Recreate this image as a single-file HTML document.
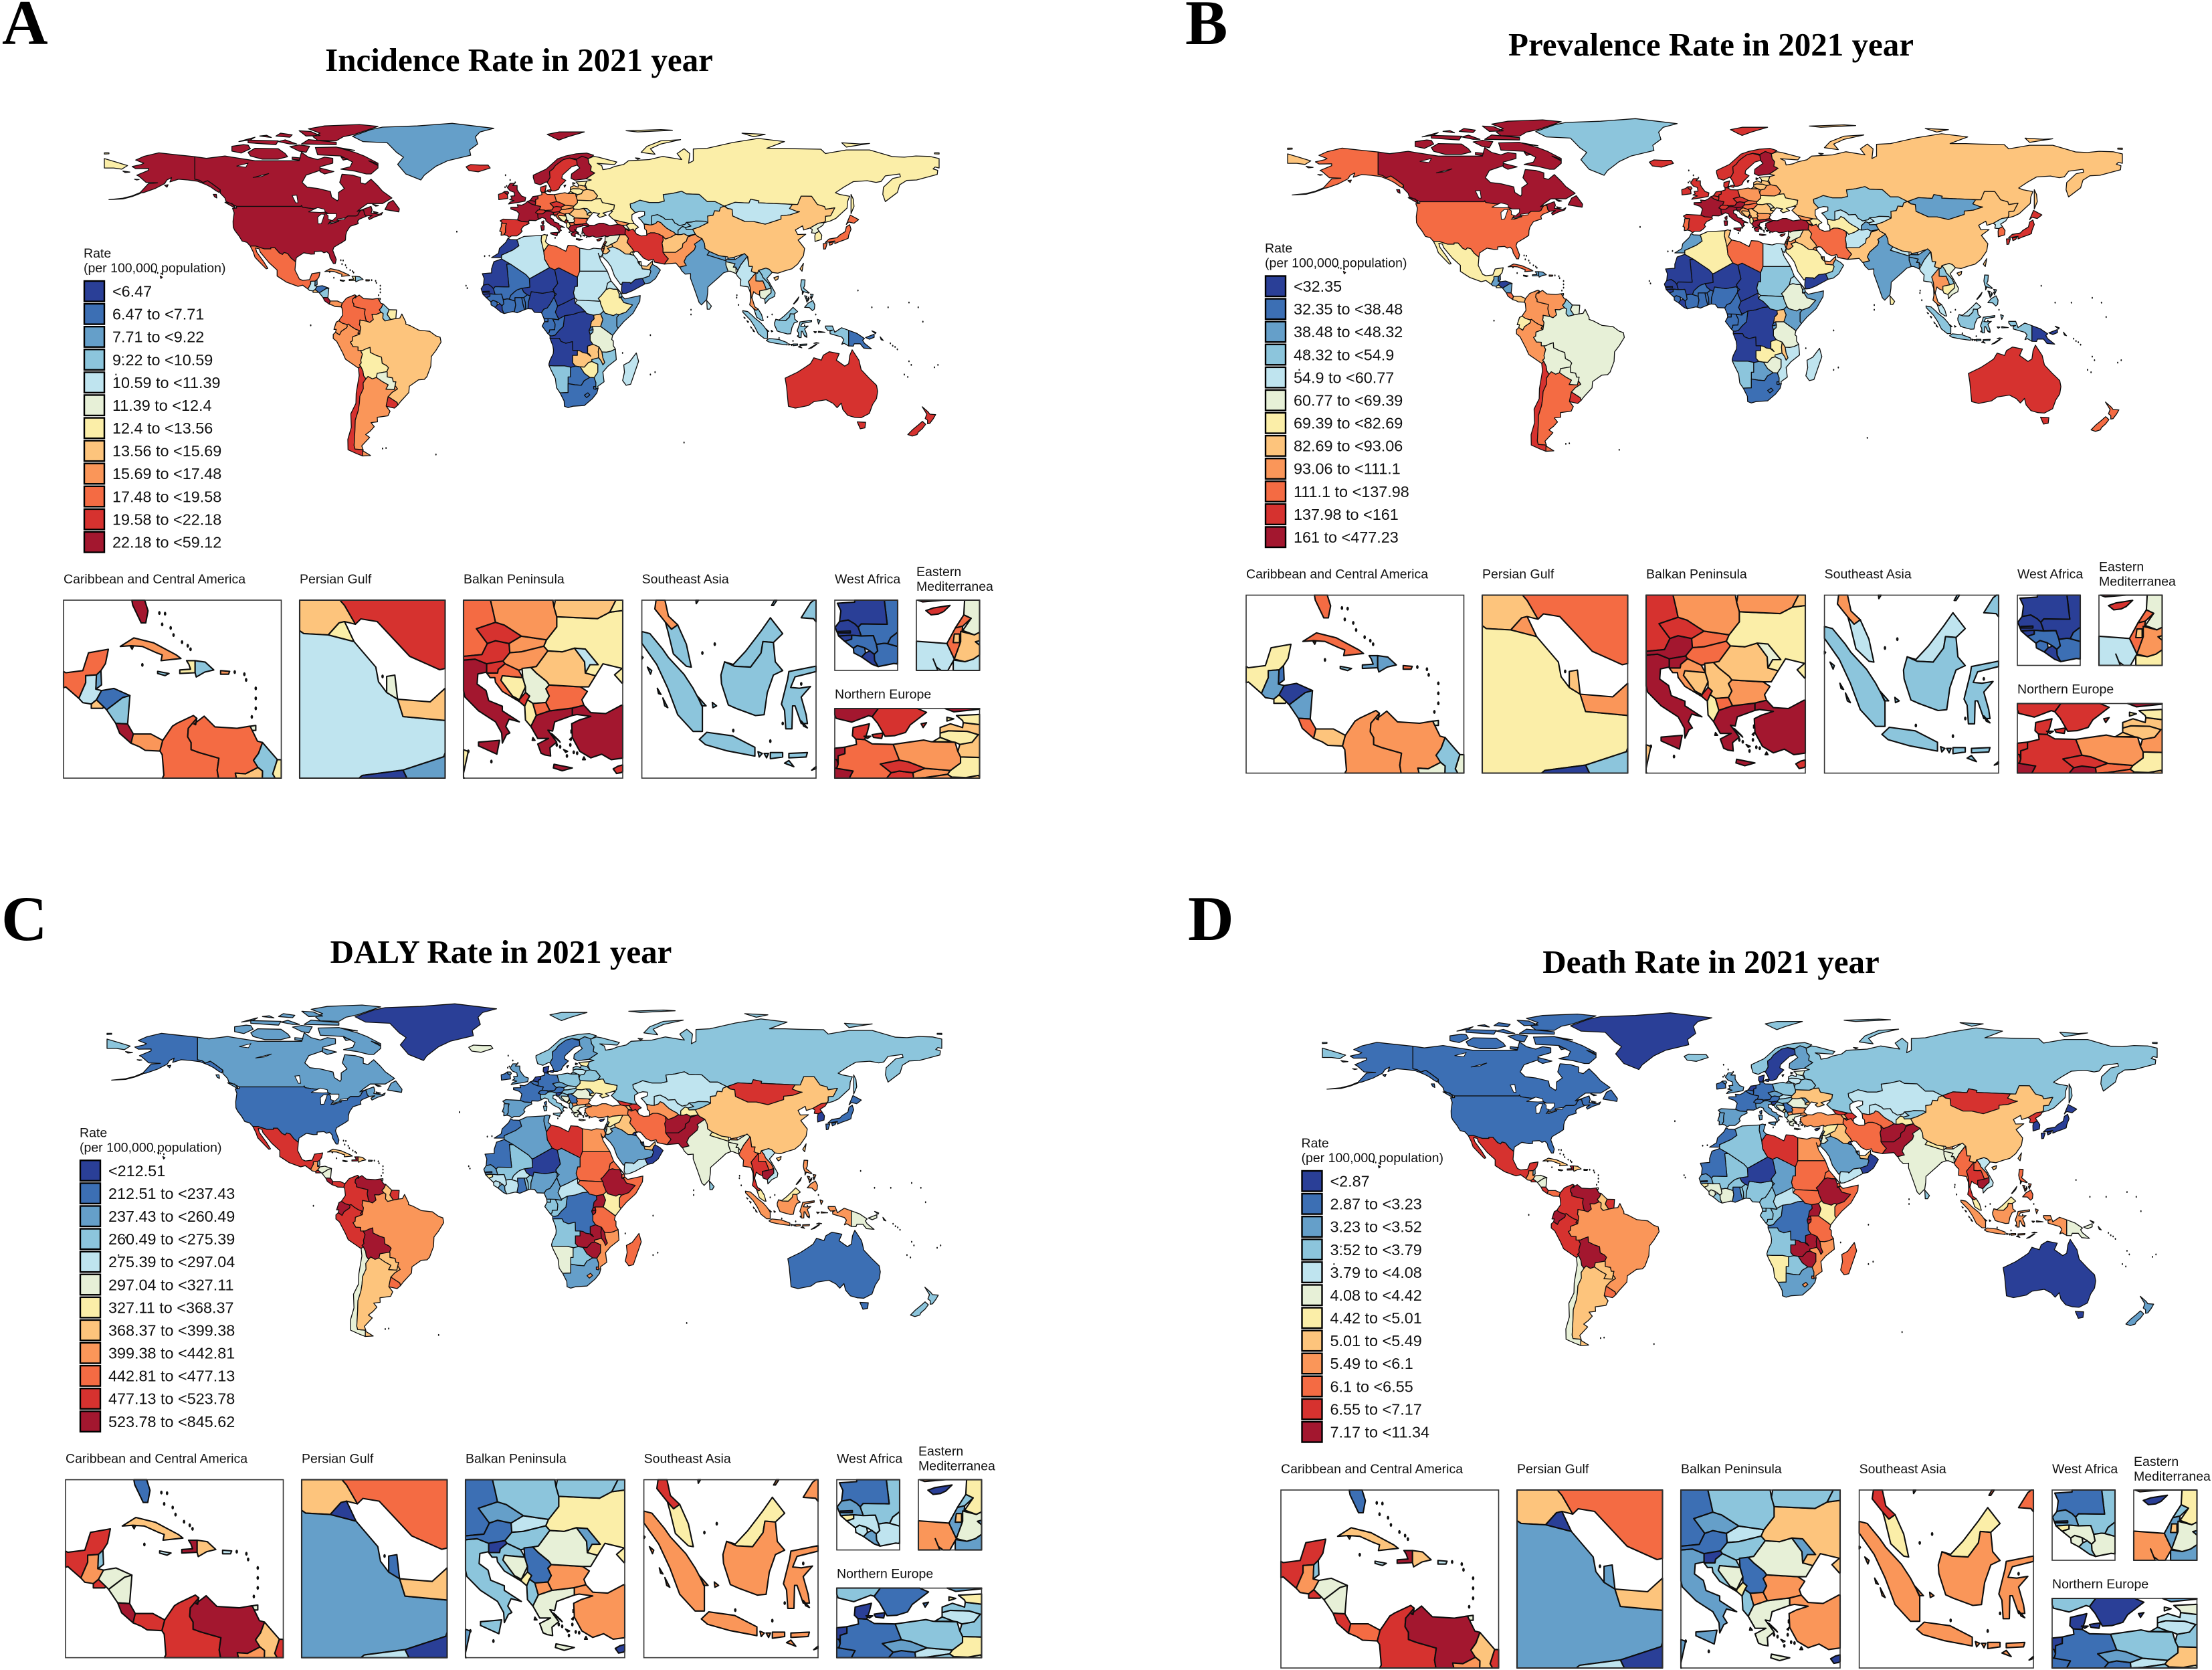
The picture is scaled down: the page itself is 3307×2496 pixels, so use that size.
<!DOCTYPE html>
<html lang="en"><head><meta charset="utf-8"><title>Global burden maps 2021</title>
<style>html,body{margin:0;padding:0;background:#fff;overflow:hidden}svg{display:block}text{font-family:"Liberation Sans",sans-serif;fill:#111}.ttl{font-family:"Liberation Serif",serif;font-weight:bold;font-size:49px;text-anchor:middle;fill:#000}.ltr{font-family:"Liberation Serif",serif;font-weight:bold;font-size:95px;fill:#000}</style></head>
<body>
<svg id="fig" xmlns="http://www.w3.org/2000/svg" width="3307" height="2496" viewBox="0 0 3307 2496">
<rect width="3307" height="2496" fill="#fff"/>
<text class="ltr" x="3" y="66">A</text>
<text class="ltr" x="1772" y="66">B</text>
<text class="ltr" x="2" y="1405">C</text>
<text class="ltr" x="1776" y="1405">D</text>
<text class="ttl" x="776" y="106">Incidence Rate in 2021 year</text>
<text class="ttl" x="2558" y="83">Prevalence Rate in 2021 year</text>
<text class="ttl" x="749" y="1439">DALY Rate in 2021 year</text>
<text class="ttl" x="2558" y="1454">Death Rate in 2021 year</text>
</svg>
<script>
// ---------- chart data ----------
const palette=["#2a3f97","#3c6fb4","#659fc9","#8cc5dc","#bfe4ef","#e7f0d7","#fbeea8","#fdc47c","#fa9659","#f46b43","#d6322f","#a3172f"];
const countries=[
"Canada","USA","Greenland","Mexico","Guatemala","Belize","Honduras","El Salvador","Nicaragua","Costa Rica","Panama","Cuba","Jamaica","Haiti","Dominican Republic","Puerto Rico","Trinidad",
"Colombia","Venezuela","Guyana","Suriname","Ecuador","Peru","Brazil","Bolivia","Paraguay","Chile","Argentina","Uruguay",
"Iceland","UK","Ireland","France","Spain","Portugal","Belgium","Netherlands","Germany","Switzerland","Italy","Austria","Czechia","Slovakia","Hungary","Slovenia","Croatia","Bosnia","Serbia","Montenegro","Albania","North Macedonia","Greece","Bulgaria","Romania","Moldova","Ukraine","Belarus","Poland","Lithuania","Latvia","Estonia","Denmark","Norway","Sweden","Finland","Russia",
"Kazakhstan","Uzbekistan","Turkmenistan","Kyrgyzstan","Tajikistan","Mongolia","China","Japan","North Korea","South Korea","Afghanistan","Pakistan","India","Nepal","Bhutan","Bangladesh","Sri Lanka","Myanmar","Thailand","Laos","Vietnam","Cambodia","Malaysia","Indonesia","Philippines","Papua New Guinea","Australia","New Zealand",
"Iran","Iraq","Kuwait","Saudi Arabia","Qatar","UAE","Oman","Yemen","Turkey","Syria","Lebanon","Israel","Palestine","Jordan","Cyprus","Georgia","Armenia","Azerbaijan",
"Morocco","Algeria","Tunisia","Libya","Egypt","Sudan","South Sudan","Eritrea","Djibouti","Ethiopia","Somalia","Kenya","Uganda","Rwanda","Burundi","Tanzania","DR Congo","Congo","Gabon","Equatorial Guinea","Cameroon","Central African Republic","Chad","Nigeria","Niger","Mali","Mauritania","Senegal","Gambia","Guinea-Bissau","Guinea","Sierra Leone","Liberia","Ivory Coast","Burkina Faso","Ghana","Togo","Benin","Angola","Zambia","Malawi","Mozambique","Zimbabwe","Botswana","Namibia","South Africa","Lesotho","Eswatini","Madagascar"];
// rate class (legend bin index) of every country, same order as countries
const incidenceBins=[11,11,2,9,4,2,1,7,3,11,8,8,3,6,3,8,5,
9,9,3,6,8,8,7,6,5,10,8,10,
10,11,10,11,10,9,11,11,9,10,11,10,10,8,8,10,9,6,5,10,6,9,11,9,7,4,6,7,8,6,7,6,10,11,10,11,6,
3,3,8,3,3,4,7,9,5,6,7,8,2,2,2,5,4,4,8,3,3,5,3,3,3,1,10,10,
10,7,6,4,5,7,2,0,11,5,9,9,7,7,10,8,5,6,
0,4,6,9,4,4,4,4,3,6,2,2,7,1,2,5,0,1,1,1,1,0,0,0,0,1,0,0,0,0,1,1,0,1,1,1,1,1,0,7,7,3,6,1,3,1,1,1,4];
const prevalenceBins=[11,9,3,6,2,1,0,6,2,9,7,9,3,2,2,9,5,
8,8,3,5,6,8,5,5,5,10,9,10,
10,10,10,11,10,9,10,10,10,10,11,11,10,9,9,11,8,7,7,10,6,9,11,8,7,5,6,8,8,7,7,6,10,10,10,11,7,
3,4,6,4,2,2,7,10,4,9,4,7,2,4,2,2,6,4,8,3,5,6,4,3,3,0,10,9,
9,7,8,6,7,8,3,0,11,5,9,9,7,8,10,8,8,6,
2,6,7,9,4,3,3,4,3,5,2,2,7,1,2,5,0,1,1,1,1,0,0,1,0,0,0,0,0,0,1,1,0,1,1,1,1,1,0,6,7,4,5,2,3,1,1,1,4];
const dalyBins=[2,1,0,10,8,3,5,10,5,11,10,7,4,11,7,4,5,
10,11,7,10,11,10,8,11,7,5,7,9,
5,2,1,1,2,2,1,0,1,1,3,1,2,4,3,0,3,5,1,6,3,8,5,8,5,2,6,3,3,4,3,6,0,3,1,2,3,
4,4,8,3,6,10,7,1,10,0,11,11,5,6,8,5,3,9,10,9,4,11,6,8,8,5,1,3,
9,7,0,2,1,7,0,4,8,6,3,2,7,5,0,10,7,10,
1,2,2,10,8,9,9,9,9,11,9,6,11,11,11,9,1,3,3,3,2,4,2,2,0,3,1,2,0,6,4,4,2,4,4,1,3,3,3,11,11,8,11,3,5,2,8,9,9];
const deathBins=[1,1,0,10,8,3,5,10,5,10,9,7,4,11,7,4,5,
10,11,7,10,11,10,8,11,7,5,7,9,
3,2,1,1,2,2,1,0,1,1,2,1,2,4,3,0,3,5,1,6,3,8,5,8,5,2,7,3,3,4,4,5,0,3,0,2,3,
4,4,9,3,6,10,7,0,10,0,11,11,5,6,8,5,3,9,10,9,4,11,6,8,9,5,0,2,
9,7,0,2,2,7,0,4,8,6,3,2,7,5,0,10,7,10,
1,3,2,10,8,9,9,9,9,11,9,6,11,11,11,9,1,3,3,3,3,4,2,3,0,3,1,2,0,6,5,5,3,5,3,1,3,3,3,11,11,8,11,3,6,2,8,9,9];
const incidenceLegend=["<6.47","6.47 to <7.71","7.71 to <9.22","9.22 to <10.59","10.59 to <11.39","11.39 to <12.4","12.4 to <13.56","13.56 to <15.69","15.69 to <17.48","17.48 to <19.58","19.58 to <22.18","22.18 to <59.12"];
const prevalenceLegend=["<32.35","32.35 to <38.48","38.48 to <48.32","48.32 to <54.9","54.9 to <60.77","60.77 to <69.39","69.39 to <82.69","82.69 to <93.06","93.06 to <111.1","111.1 to <137.98","137.98 to <161","161 to <477.23"];
const dalyLegend=["<212.51","212.51 to <237.43","237.43 to <260.49","260.49 to <275.39","275.39 to <297.04","297.04 to <327.11","327.11 to <368.37","368.37 to <399.38","399.38 to <442.81","442.81 to <477.13","477.13 to <523.78","523.78 to <845.62"];
const deathLegend=["<2.87","2.87 to <3.23","3.23 to <3.52","3.52 to <3.79","3.79 to <4.08","4.08 to <4.42","4.42 to <5.01","5.01 to <5.49","5.49 to <6.1","6.1 to <6.55","6.55 to <7.17","7.17 to <11.34"];

// ---------- base map outlines (lon,lat) ----------
const geo={
"Canada":["-141,69.7 -136,69 -128,70 -125,69.5 -115,68 -110,68 -102,68 -96,68 -95,71.5 -92,69.5 -88,68.5 -85,69.5 -81.5,69 -81.5,67 -87,65.5 -87,64 -93,62 -94.7,59 -92.5,57 -88,56.5 -82.5,55.2 -82,52.9 -79.5,51.3 -79,52 -79,54.8 -76.5,56.5 -78.5,59 -77.5,62.4 -73,62 -69.5,61 -69.5,58.8 -67.5,58.3 -65,60.3 -62,57.5 -60,55.3 -56,52.5 -60,50.2 -66.5,50.2 -69,48.5 -71,46.9 -65,49 -64.5,47.5 -65,46.3 -61.5,45.7 -60,46.5 -60.5,45.6 -63.5,44.6 -65.7,43.5 -66.2,44.3 -64.5,45.3 -67,45 -67.8,45.7 -68.2,47.4 -69.2,47.5 -70,46.7 -70.7,45.4 -71.5,45 -74.9,45 -75.3,44.8 -76.8,43.6 -79,43.3 -79,42.8 -82.4,41.7 -83.1,42.1 -82.4,43 -82.1,43.6 -82.5,45.3 -83.5,45.8 -83.6,46.1 -84.5,46.5 -84.9,46.9 -88.4,48.3 -89.6,48 -92,48.3 -94.6,48.7 -95,49.4 -95.2,49 -123,49 -125,50 -127.5,51 -128,52.5 -130,54.5 -130,55.9 -133.5,58.4 -135.5,59.7 -137.5,58.9 -139,59.9 -141,60.3",
"-80,73.7 -72,71.5 -68,70 -62,67 -62,65 -65,62.5 -67,62.5 -72,63.7 -78,64.5 -74,65.5 -73,67.5 -78,70 -88,70.5 -89,73.5","-117,70 -112,68.7 -105,68.7 -101,69.7 -102,71 -105,73 -115,73.2 -118,71.5","-125,72 -121,71.2 -117,73 -118,74.5 -120,74.7 -125,74","-88,76.5 -80,76.3 -77,78 -72,79 -62,82.3 -70,83.1 -85,82.5 -92,81.3 -87,79.5 -90,78","-95,75 -80,74.7 -80,75.7 -92,76.8","-118,75.5 -106,74.7 -105,76.3 -118,76.6","-96,80.5 -91,80.2 -87,78.5 -93,78.3","-104,79.5 -99,78.8 -100,77.8 -106,78.3","-102,76.7 -97,75 -100,75 -105,76","-100,73.9 -96,72 -93,71.5 -91.5,74 -96,74.6","-87,65 -81,63.5 -85,62.5 -87,63.5","-59,47.7 -53,46.7 -52.8,48 -55.5,51.5 -57.5,50.5","-128,50.7 -124,48.5 -123.5,48.5 -125,50.2","-64.3,49.9 -61.8,49.3 -63,49.1","-133,54 -131.7,54 -131.5,52.5 -132.5,53","-64,46.9 -62,46.4 -63.5,46.1","-62,66 -64,67 -66,68 -63,67","-115,77.8 -119,76.8 -122,76 -117,76.7","-110,78.6 -113,78.3 -108,77.7","-99,69.5 -95.5,69.2 -96,68.3 -99,68.6","-75,68.7 -78,69.7 -77,68.3","-79,73.5 -72,72.3 -76,72.7"],
"USA":["-123,49 -95.2,49 -95,49.4 -94.6,48.7 -92,48.3 -89.6,48 -88.4,48.3 -84.9,46.9 -84.5,46.5 -83.6,46.1 -83.5,45.8 -82.5,45.3 -82.1,43.6 -82.4,43 -83.1,42.1 -82.4,41.7 -79,42.8 -79,43.3 -76.8,43.6 -75.3,44.8 -74.9,45 -71.5,45 -70.7,45.4 -70,46.7 -69.2,47.5 -68.2,47.4 -67.8,45.7 -67,44.9 -70,43.7 -70.8,42.9 -70.5,41.8 -74,40.7 -75.5,38.5 -75.9,37 -76,35 -77.5,34 -81,32 -81.5,30.7 -80,26.9 -80.4,25.2 -81.2,25.2 -82.7,27.7 -83,29.1 -84,30.1 -85.3,29.7 -86.4,30.4 -89.4,30.2 -89.4,29.2 -90.9,29.1 -94,29.7 -97.2,27.7 -97.5,25.9 -99.5,27.5 -101,29.4 -102.5,29.8 -103.2,29 -104.5,29.6 -106.5,31.8 -108.2,31.8 -108.2,31.3 -111,31.3 -114.8,32.5 -117.1,32.5 -118.5,34 -120.6,34.6 -122,36.8 -123.7,38.9 -124.4,40.3 -124.5,42.8 -124,46.3 -124.7,48.2 -123,48.3",
"-141,69.7 -141,60.3 -139,59.9 -137.5,58.9 -135.5,59.7 -133.5,58.4 -130,55.9 -130.5,54.8 -131.8,55.5 -134,57 -136,58 -139.9,59.5 -144,60 -148,60.3 -151.7,59.2 -151,61 -153,60 -154,58.5 -158,56.5 -163,54.8 -164.8,54.5 -161,58.5 -157,58.8 -162,59 -165,61.5 -166,62 -161,64 -161,64.8 -166.5,64.7 -168,65.6 -164,66.5 -163,67 -166.5,68.3 -163,69.8 -156.5,71.3 -152,70.8","-164.5,54.8 -168,53.4 -172,52.4 -178,51.8 -172,52.1 -168,53.1 -164.5,54.4","-155.9,20 -155,19.5 -155.6,19","-154,57.8 -152.5,58 -153,57","-166,60 -165,60.2 -167,60.3","-172,63.7 -169,63.3 -171,63.1"],
"Greenland":["-73,78.2 -68.5,76 -58,75.5 -54,71.5 -51,69.5 -53.5,66.5 -50,62.5 -43.5,60 -42,62 -37,65.7 -32,68 -22,70.3 -22.5,72.5 -19,75 -20,78 -18,80 -12,81.5 -30,83.6 -45,82.5 -60,82 -65,81"],
"Mexico":["-117.1,32.5 -114.8,32.5 -111,31.3 -108.2,31.3 -108.2,31.8 -106.5,31.8 -104.5,29.6 -103.2,29 -102.5,29.8 -101,29.4 -99.5,27.5 -97.5,25.9 -97.8,22.5 -95.9,18.8 -94.5,18.2 -91.5,18.5 -90.5,21 -87,21.5 -87.5,19.5 -88.3,18.5 -89.1,17.9 -91,17.8 -91,16.8 -92.2,14.6 -94.5,16.2 -96.5,15.7 -101.5,17.5 -105.5,20 -105.5,22.5 -109,25.6 -112.8,30 -113.2,31.3 -114.8,31.7 -114.3,30 -111.3,26 -109.5,23.2 -110.2,23 -112.2,25 -115,27.8 -115.8,30"],
"Guatemala":["-92.2,14.6 -91,16.8 -91,17.8 -89.1,17.9 -89.2,15.9 -88.2,15.7 -89.1,14.4 -90,13.8 -91.5,14"],
"Belize":["-89.1,17.9 -88.3,18.5 -88.2,16.5 -89.2,15.9"],
"Honduras":["-88.2,15.7 -86,16 -83.2,15 -84.5,14.7 -87.3,13 -87.8,13.4 -89.1,14.4"],
"El Salvador":["-90,13.8 -89.1,14.4 -87.8,13.4 -88,13.2 -90,13.2"],
"Nicaragua":["-87.3,13 -84.5,14.7 -83.2,15 -83.6,11 -85.7,11.1"],
"Costa Rica":["-85.7,11.1 -83.6,11 -82.6,9.6 -83,8.3 -85,9.7"],
"Panama":["-83,8.3 -82.6,9.6 -79.5,9.6 -77.4,8.7 -77.9,7.2 -80.5,7.3 -81.5,7.8"],
"Cuba":["-84.9,21.9 -82.5,23.1 -79,22.4 -75,20.7 -74.2,20.2 -77.7,19.9 -77.5,20.7 -78.5,21 -81,21.9 -83,22","-83.1,21.9 -82.6,21.9 -82.8,21.5"],
"Jamaica":["-78.3,18.4 -76.3,18.1 -77,17.8 -78.3,18.1"],
"Haiti":["-73.2,19.9 -71.7,19.9 -71.7,18.2 -74.4,18.1 -74.4,18.6 -72.5,18.7 -72.8,19.4"],
"Dominican Republic":["-71.7,19.9 -69.9,19.7 -68.4,18.6 -70,18.3 -71.5,17.6 -71.7,18.2"],
"Puerto Rico":["-67.2,18.5 -65.6,18.4 -65.8,18 -67.2,18"],
"Trinidad":["-61.9,10.7 -61,10.8 -61,10.1 -61.9,10.1"],
"Colombia":["-77.4,8.7 -75.7,10.7 -74.9,11.1 -72,12.2 -71.4,11.8 -72.9,10.4 -73,9.2 -72.4,8.4 -72.4,7.4 -71,7 -67.5,6.2 -67.8,4.5 -67.3,2.2 -66.9,1.2 -69.8,1.7 -69.8,0.6 -70,-0.2 -69.4,-1.3 -69.9,-4.2 -70.7,-3.8 -70,-2.7 -71.5,-2.2 -73.2,-1.2 -74.8,0 -75.4,-0.2 -77.4,0.4 -78.9,1.4 -77.2,3.8 -77.5,6.7 -77.9,7.2"],
"Venezuela":["-71.4,11.8 -71.6,10.9 -71.9,11 -70.1,12.1 -68.2,10.6 -64.3,10.4 -62,10.7 -60.7,8.6 -59.8,8.4 -60.5,6.9 -61.4,5.9 -60.7,5.2 -60.6,4.9 -62.8,4 -64.6,4.1 -64,1.9 -65.5,0.7 -66.9,1.2 -67.3,2.2 -67.8,4.5 -67.5,6.2 -71,7 -72.4,7.4 -72.4,8.4 -73,9.2 -72.9,10.4"],
"Guyana":["-59.8,8.4 -57.2,6 -58,4 -56.5,1.9 -59,1.3 -59.9,2.4 -59.8,4.4 -60.6,4.9 -61.4,5.9 -60.5,6.9"],
"Suriname":["-57.2,6 -54,5.9 -54.3,2.3 -56.5,1.9 -58,4"],
"Ecuador":["-78.9,1.4 -77.4,0.4 -75.4,-0.2 -75.2,-0.9 -75.5,-1.5 -77.8,-3 -78.6,-4.5 -80.3,-3.4 -80,-2.2 -81,-2.2 -80,0.8"],
"Peru":["-75.4,-0.2 -74.8,0 -73.2,-1.2 -71.5,-2.2 -70,-2.7 -70.7,-3.8 -69.9,-4.2 -72.9,-5.3 -73,-7 -73.9,-7.5 -72.7,-9.4 -70.6,-9.5 -70.6,-11 -69.5,-11 -68.7,-12.5 -69.4,-15 -69.2,-16.2 -70,-17 -69.5,-17.5 -70.4,-18.3 -71.4,-17.7 -76,-14.6 -77.2,-12 -79.8,-7.2 -81.3,-6 -81.3,-4.3 -80.3,-3.4 -78.6,-4.5 -77.8,-3 -75.5,-1.5 -75.2,-0.9"],
"Brazil":["-59.8,4.4 -59.9,2.4 -59,1.3 -56.5,1.9 -54.3,2.3 -52.6,2.5 -51.7,4.2 -50,0.8 -50,0 -48,-0.7 -44.4,-2.5 -39.7,-3 -37,-4.9 -35.2,-5.5 -34.8,-7.5 -37,-11 -39,-13.5 -39.2,-17.5 -40.9,-21.9 -42,-23 -44.5,-23.2 -48.5,-25.9 -48.7,-28.5 -52.2,-32.2 -53.4,-33.7 -53.8,-32.6 -57.6,-30.2 -55.9,-28.4 -53.6,-27 -54.6,-25.6 -54.3,-24 -55.4,-24 -55.8,-22.4 -58,-22 -58,-20 -58.2,-19.8 -57.5,-18.2 -58.3,-17.3 -60.2,-16.3 -60.5,-13.8 -62.8,-13 -65.3,-11.8 -65.4,-9.7 -67.2,-10.3 -68.7,-11 -70.6,-11 -70.6,-9.5 -72.7,-9.4 -73.9,-7.5 -73,-7 -72.9,-5.3 -69.9,-4.2 -69.4,-1.3 -70,-0.2 -69.8,0.6 -69.8,1.7 -66.9,1.2 -65.5,0.7 -64,1.9 -64.6,4.1 -62.8,4 -60.6,4.9"],
"Bolivia":["-69.4,-15 -68.7,-12.5 -69.5,-11 -68.7,-11 -67.2,-10.3 -65.4,-9.7 -65.3,-11.8 -62.8,-13 -60.5,-13.8 -60.2,-16.3 -58.3,-17.3 -57.5,-18.2 -58.2,-19.8 -62.3,-20.5 -62.7,-22.2 -64.4,-22.8 -66.3,-21.8 -67.2,-22.8 -68.2,-21.5 -68.5,-19.5 -69.5,-17.5 -70,-17 -69.2,-16.2"],
"Paraguay":["-58.2,-19.8 -58,-20 -58,-22 -55.8,-22.4 -55.4,-24 -54.3,-24 -54.6,-25.6 -55,-27.3 -58.6,-27.1 -57.6,-25.3 -60,-24 -62.7,-22.2 -62.3,-20.5"],
"Chile":["-69.5,-17.5 -68.5,-19.5 -68.2,-21.5 -67.2,-22.8 -68.4,-24.5 -68.3,-26.9 -69.8,-30 -70,-33 -70.5,-36 -71.8,-40 -71.9,-44 -72.3,-50.6 -71.9,-52 -68.4,-52.3 -68.6,-54.9 -71,-54 -74.9,-52.3 -75,-48 -73.5,-43 -73.7,-37.3 -71.5,-33 -71.4,-28.8 -70.1,-21.4 -70.4,-18.3"],
"Argentina":["-64.4,-22.8 -62.7,-22.2 -60,-24 -57.6,-25.3 -58.6,-27.1 -55,-27.3 -54.6,-25.6 -53.6,-27 -55.9,-28.4 -57.6,-30.2 -58.4,-33.9 -58.4,-34.2 -56.8,-36.3 -57.7,-38.2 -62.3,-38.8 -62.2,-40.7 -65,-41 -63.6,-42.7 -65.3,-44.5 -67.3,-46 -65.6,-47.2 -69,-50.7 -68.4,-52.3 -71.9,-52 -72.3,-50.6 -71.9,-44 -71.8,-40 -70.5,-36 -70,-33 -69.8,-30 -68.3,-26.9 -68.4,-24.5 -67.2,-22.8 -66.3,-21.8","-68.6,-52.7 -65.2,-54.7 -68.6,-54.9"],
"Uruguay":["-58.4,-33.9 -57.6,-30.2 -53.8,-32.6 -53.4,-33.7 -54.9,-35 -58.4,-34.2"],
"Iceland":["-24,65.5 -22,66.4 -18,66.2 -14.5,66.2 -13.6,65 -18.7,63.4 -22.7,63.9"],
"UK":["-5.7,50 -1.2,50.7 1.4,51.2 1.7,52.7 0,53.3 -1.3,54.9 -2,56 -2,57.7 -3.9,57.7 -3,58.6 -5,58.6 -6.2,56.8 -5,55.5 -3.3,54.9 -3,53.4 -4.7,53.3 -4.2,52.3 -5.2,51.8 -3.3,51.4 -5,50.8","-7.4,55.2 -6,55.2 -5.6,54.6 -6.2,53.9 -7.2,54.5"],
"Ireland":["-6.2,53.9 -6,52.3 -9.9,51.8 -10,54 -8.4,54.5 -7.4,55.2 -7.2,54.5"],
"France":["2.5,51.1 4.2,50 5.8,49.5 8.2,49 7.6,47.6 6.9,47.4 6,46.4 6.9,46 7,44.3 7.4,43.7 6,43.1 3.2,43.2 3,42.5 0,42.7 -1.8,43.4 -1.1,46 -2.2,47.1 -4.7,47.9 -4.7,48.6 -1.6,48.7 -1.9,49.7 0,49.5 1.5,50.2","8.6,42.5 9.5,43 9.5,41.8 9.2,41.4 8.7,41.8"],
"Spain":["-9.3,43 -8,43.7 -1.8,43.4 0,42.7 3,42.5 3.2,41.9 0.7,40.7 -0.3,39.4 0.2,38.7 -0.7,37.7 -2.1,36.7 -4.4,36.7 -5.4,36.1 -6.4,36.9 -7.4,37.2 -7.5,37.6 -7,38.2 -7,39.7 -6.9,41 -6.6,41.9 -8.2,42"],
"Portugal":["-8.8,41.9 -8.2,42 -6.6,41.9 -6.9,41 -7,39.7 -7,38.2 -7.5,37.6 -7.4,37.2 -8.9,37 -8.8,38.4 -9.5,38.7 -8.8,40.7"],
"Belgium":["2.5,51.1 3.4,51.4 4.3,51.4 5.8,51.1 6,50.3 5.8,49.5 4.2,50"],
"Netherlands":["3.4,51.4 4,52 4.8,53.1 7,53.4 7,52.2 6,51.8 6,50.8 5.8,51.1 4.3,51.4"],
"Germany":["7,53.4 8.7,53.9 8.6,54.9 9.9,54.8 11,54 14.1,53.9 14.7,52 15,51 12.2,50.3 13.8,48.7 13,47.5 10.2,47.3 7.6,47.6 8.2,49 5.8,49.5 6,50.3 6,50.8 6,51.8 7,52.2"],
"Switzerland":["6,46.4 6.9,47.4 7.6,47.6 9.6,47.5 10.4,46.9 9,45.9 7,45.9"],
"Italy":["6.9,46 7,45.9 9,45.9 10.4,46.9 12,47 13.7,46.5 13.7,45.6 12.4,45.4 12.3,44.3 13.6,43.6 14,42.5 16,41.9 16,41.4 18.5,40.2 17,40.5 16.5,39.7 17.1,39 16.6,38.8 16,37.9 15.9,39 15,40.2 12.5,41.4 10.5,42.9 10.2,43.9 8.8,44.4 7.4,43.7 7,44.3","12.5,38 15.6,38.2 15.2,36.7 12.5,37.6","8.2,41 9.7,41 9.6,39.2 8.6,39"],
"Austria":["9.6,47.5 10.2,47.3 13,47.5 13.8,48.7 15,49 17,48.7 17.1,47.7 16.1,46.8 13.7,46.5 12,47 10.4,46.9"],
"Czechia":["12.2,50.3 15,51 16.3,50.7 18.8,49.5 17,48.7 15,49 13.8,48.7"],
"Slovakia":["17,48.7 18.8,49.5 22.5,49.1 22.1,48.4 18.8,47.8 17.1,47.7"],
"Hungary":["17.1,47.7 18.8,47.8 22.1,48.4 22.7,47.9 21,46.2 20.2,46.1 18.4,45.8 16.4,46.5 16.1,46.8"],
"Slovenia":["13.7,46.5 16.1,46.8 16.4,46.5 15.4,45.9 15.3,45.5 13.7,45.5"],
"Croatia":["13.7,45.5 15.3,45.5 15.4,45.9 16.4,46.5 18.4,45.8 19,45 16,45.2 15.8,44.7 17.5,43 18.5,42.4 16,43.5 15,44.5 14.9,45 14.2,45"],
"Bosnia":["16,45.2 19,45 19.4,44 18.5,42.6 17.5,43 15.8,44.7"],
"Serbia":["19,45 18.9,46 20.2,46.1 21,45.5 22.5,44.6 22.9,44.2 22.4,43.8 22.9,43 22.4,42.3 20.5,42.2 19.7,42.6 20,43 19.4,43.4 19.4,44"],
"Montenegro":["18.5,42.6 19.4,43.4 20,43 19.7,42.6 19.3,41.9 18.5,42.4"],
"Albania":["19.3,41.9 19.7,42.6 20.5,42.2 21,40.9 20.2,39.7 19.4,40.4"],
"North Macedonia":["20.5,42.2 22.4,42.3 23,41.4 21,40.9"],
"Greece":["20.2,39.7 21,40.9 23,41.4 26.3,41.7 26.3,40.9 23.7,40.2 23.4,39.2 22.7,39.3 24,38 23,37.4 23.1,36.5 22.3,36.6 21.7,36.8 21.2,37.8 22.8,38.4 21.2,38.4","23.6,35.6 26.3,35.2 24.8,34.9 23.5,35.2","23,39 24.5,38 24.3,38.2 23.3,38.9","26.1,39.3 26.6,39.1 26.1,39","28,36.4 27.8,36.1 28.2,36.1","26.2,38.5 25.9,38.3 26.1,38.2","25,37.2 25.6,37 25.3,36.9","20.5,38.5 20.8,38.2 20.4,38.2"],
"Bulgaria":["22.9,44.2 27.5,44 28.5,43.5 27.7,42.6 28,42 26.3,41.7 23,41.4 22.4,42.3 22.9,43 22.4,43.8"],
"Romania":["22.7,47.9 24.8,47.8 26.6,48.2 28.1,46.7 28.2,45.5 29.7,45.2 28.7,44 27.5,44 22.9,44.2 22.5,44.6 21,45.5 20.2,46.1 21,46.2"],
"Moldova":["26.6,48.2 28.2,48.1 30.1,46.4 28.9,46.4 28.2,45.5 28.1,46.7"],
"Ukraine":["22.1,48.4 22.5,49.1 24,50.5 24,51.6 30,51.4 31.8,52.1 34,52.3 34.8,50.6 40,49.6 39.7,47.8 38.3,47.1 35,46.2 36.5,45.3 33.6,44.4 32.5,45.3 33.6,46 30.8,46.5 29.7,45.2 28.2,45.5 28.9,46.4 30.1,46.4 28.2,48.1 26.6,48.2 24.8,47.8 22.7,47.9"],
"Belarus":["24,51.6 23.6,52.6 23.9,53.9 25.7,54.3 26.6,55.7 28.2,56.1 30.9,55.6 32.7,53.4 31.8,52.1 30,51.4"],
"Poland":["14.1,53.9 18.6,54.7 19.7,54.4 23.2,54.3 23.6,52.6 24,51.6 24,50.5 22.5,49.1 18.8,49.5 16.3,50.7 15,51 14.7,52"],
"Lithuania":["21,56 22.2,56.4 25,56.3 26.6,55.7 25.7,54.3 23.9,53.9 23.2,54.3 22.7,54.4 21,55.2"],
"Latvia":["21,56 21,57 22.5,57.7 24.3,57 24.4,57.9 27,57.5 28.2,56.1 26.6,55.7 25,56.3 22.2,56.4"],
"Estonia":["23.4,59.2 28,59.5 27.4,58 27,57.5 24.4,57.9 24.3,58.3","22,58.9 23,58.6 22,58.2"],
"Denmark":["8.1,55.5 8.2,57 10.6,57.7 10.3,56.2 9.9,54.8 8.6,54.9","11,55.7 12.6,56 12.4,55 11.2,55.2","9.8,55.4 10.8,55.4 10.3,55"],
"Norway":["5,61 5,62 10.5,64.5 14,67.5 15.5,68.8 19,70 23.5,70.9 28,71.2 31,70.3 29,69 28.6,69 26,69.9 23.7,68.7 20.6,69.1 18,68.5 16.5,67.5 14.5,66 13.5,64.6 12,63.5 12.2,61 11,59 10.5,59.2 8,58 5.7,58.7","11,79 16,80 27,80 20,78 16,76.6 14,77.5"],
"Sweden":["11,59 12.2,61 12,63.5 13.5,64.6 14.5,66 16.5,67.5 18,68.5 20.6,69.1 23.7,68.3 23.9,66.2 21.5,65.5 17.5,62 17.3,60.7 19,59.8 16.6,57.5 15.9,56.1 14.3,55.5 12.9,55.4 11.8,57.8","18.2,57.7 19,57.9 18.5,57"],
"Finland":["20.6,69.1 23.7,68.7 26,69.9 28.6,69 29,66.9 30,65.7 29.7,63.8 31.5,62.9 27.8,60.5 23,59.9 21.3,60.7 21.5,62.5 25,65 23.9,66.2 23.7,68.3"],
"Russia":["27.8,60.5 30,60 28,59.5 27.4,58 28.2,56.1 30.9,55.6 32.7,53.4 31.8,52.1 34,52.3 34.8,50.6 40,49.6 39.7,47.8 38.3,47.1 39.2,47 37.5,45.4 39,44 40.3,43.1 43.5,42.5 46.5,41.9 48.5,41.8 47.5,43.5 47.5,45.5 49,46.4 47,48.5 46.8,50 48.7,50.6 51,51.6 55,50.6 59,50.6 61.5,51.2 61,53.9 65,54.4 69,55.3 71,54.2 76.5,54 80,51 83.4,51 87.3,49.1 92,50.7 98,50.4 98.7,52 102.3,51.3 102.1,50.5 106.3,50.3 113.6,50 119,49.8 119.7,51.5 120.5,53.3 125,53.2 127.5,49.8 130.6,48.9 131,47.8 135,48.4 133.2,45.1 131,44.9 131,43.2 130.7,42.3 133,42.9 135.5,44 140.3,48.3 140.5,51 141.4,53.2 137,54 135.3,54.7 139,57.1 143,59.3 149,59.7 152.8,59 155,59.4 156.8,61.7 163,62.5 163.3,61.3 160,60.6 156,57 155.7,54 156.8,51 162,54.8 163,58 166,59.8 170.3,60 179.2,62.3 179.4,64 177.4,64.6 178.3,65.4 180,65 180,68.9 176,69.8 170,70 165,69.5 160,69.7 150,72.5 140,72.5 131,71 129,72.8 118,73 112.5,73.2 105.7,73.2 113.3,76 102,77.3 91,75.6 80,73.2 74,72.9 74,68 72,67 72.5,71 70,73 67,71 69,68.5 60.8,69.8 55,68.5 46,68 44,66.5 40,65.6 38,64.8 35,64.3 34.5,66 32.5,66.9 40,66.4 41,67.5 33,69.5 31,69.8 29,69 28.6,69 29,66.9 30,65.7 29.7,63.8 31.5,62.9","19.9,54.4 22.7,54.4 21,55.2","-180,68.9 -175,67.5 -170,66 -172.5,64.5 -176,65 -180,65","51.5,71.5 55,71 57.5,70.7 55.5,73 60,75 68.5,76.8 60,76.3 54,74","95,79.5 105,79 100,78","138,75.5 146,75 150,75.2 140,73.7","45,80.5 60,81 65,80.7 50,80","142,54 143,52 143.3,49 142,46 142,50","178,71.3 180,71.3 180,70.8 178,70.9","-180,71.3 -178,71.3 -178,70.9 -180,70.8","49,69.2 51,69 50,68.6"],
"Kazakhstan":["47,48.5 49,46.4 51,47 53,46.8 53,45.3 51.2,44.5 50.3,44.3 51.5,43.2 52.7,41.7 55,41.3 56,41.3 56,45 58.5,45.6 61,44.4 62,43.5 64.9,43.7 66.1,42 66.5,41.9 68,41 70.4,41.5 71,42.3 73.5,42.5 75,42.9 79.1,42.8 80.3,42.2 80.2,45 82.5,45.3 83.2,47.2 85.2,47 85.7,48.5 87.3,49.1 83.4,51 80,51 76.5,54 71,54.2 69,55.3 65,54.4 61,53.9 61.5,51.2 59,50.6 55,50.6 51,51.6 48.7,50.6 46.8,50"],
"Uzbekistan":["56,41.3 56,45 58.5,45.6 61,44.4 62,43.5 64.9,43.7 66.1,42 66.5,41.9 68,41 70.4,41.5 71,42.3 73,40.8 70.6,40.2 69.3,40.7 67.4,39 67.4,37.2 66.5,37.4 65.5,38.3 64.2,38.9 62.4,40 61,41.2 60,42.2 58.6,42.8 57.8,41.9"],
"Turkmenistan":["52.7,41.7 55,41.3 56,41.3 57.8,41.9 58.6,42.8 60,42.2 61,41.2 62.4,40 64.2,38.9 65.5,38.3 66.5,37.4 64.5,36.3 62,35.4 60.8,36.6 59,37.5 57.3,38 55.5,38 53.9,37.3 53.8,39 53,39.7 52.9,40.9"],
"Kyrgyzstan":["71,42.3 73.5,42.5 75,42.9 79.1,42.8 80.3,42.2 76.5,40.4 73.7,39.5 71,39.4 70.6,40.2 73,40.8"],
"Tajikistan":["67.4,37.2 67.4,39 69.3,40.7 70.6,40.2 71,39.4 73.7,39.5 74.9,37.4 71.5,36.8 70,37.6 68.9,37.3"],
"Mongolia":["87.7,49.2 92,50.7 98,50.4 98.7,52 102.3,51.3 102.1,50.5 106.3,50.3 113.6,50 116.7,49.8 115.5,48.1 118.5,47 119.8,46.8 115.7,45.5 111.8,45.1 111.8,43.7 105,41.6 100,42.7 96.3,42.7 91,45 90.7,47.8 88.8,48.1"],
"China":["73.7,39.5 76.5,40.4 80.3,42.2 80.2,45 82.5,45.3 83.2,47.2 85.2,47 85.7,48.5 87.3,49.1 88.8,48.1 90.7,47.8 91,45 96.3,42.7 100,42.7 105,41.6 111.8,43.7 111.8,45.1 115.7,45.5 119.8,46.8 118.5,47 115.5,48.1 116.7,49.8 119,49.8 119.7,51.5 120.5,53.3 125,53.2 127.5,49.8 130.6,48.9 131,47.8 135,48.4 133.2,45.1 131,44.9 131,43.2 130.6,42.4 128,42 124.3,40 121.6,39.2 121.1,40.9 118,39.2 119,37.3 122.5,37.4 119.2,35 122,31.5 121.5,28.5 119,25 116.5,23 113.5,22.2 110.5,21.2 108,21.5 106.7,22.8 105.3,23.3 102.2,22.4 101.7,21.2 100.1,21.5 99,22 99.5,24 98,24 97.5,28 95,29 91.5,27.8 89,27.4 88.8,28 85,28.5 81,30.2 79,31.5 78.8,33.5 77.8,35.5 75.5,36.7 74.9,37.4","108.7,19.3 110.7,20 110.5,18.8 109.5,18.2","120,23 121.5,25.3 120.9,22"],
"Japan":["130.9,34 132.5,35.4 136,36 137,37 139.5,38.5 140,40.5 141.4,41.4 142,39.5 141,37 140.8,35.7 139,35 136.9,34.3 135,33.5 135,34.6 132.5,34.2","130,33.5 131.7,33.6 131,31.3 130.2,31.2","132.5,33.9 134.5,34.2 134,33.3 132.8,32.8","140,41.5 141.7,45.4 145.3,43.5 143.3,42 141,42.5"],
"North Korea":["124.3,40 128,42 130.6,42.4 129.7,41 127.5,39.7 128.3,38.6 126.7,37.8 125,38 125.3,39.4"],
"South Korea":["126.7,37.8 128.3,38.6 129.4,37 129.2,35.2 126.5,34.4 126.4,36.7"],
"Afghanistan":["60.8,36.6 62,35.4 64.5,36.3 66.5,37.4 67.4,37.2 68.9,37.3 70,37.6 71.5,36.8 74.9,37.4 71.6,36.3 71,34.5 69.5,33.5 69.3,31.9 66.4,29.9 60.9,29.9 60.9,31.5 60.5,33.7 61,35"],
"Pakistan":["60.9,29.9 66.4,29.9 69.3,31.9 69.5,33.5 71,34.5 71.6,36.3 74.9,37.4 75.5,36.7 77.8,35.5 74.5,33.3 75,32.4 74.5,31 71,28 70,26 71,24.4 68,23.7 66.5,25.4 61.5,25 63.2,27.2 61.8,28.7"],
"India":["68.2,23.7 71,24.4 70,26 71,28 74.5,31 75,32.4 74.5,33.3 77.8,35.5 78.8,33.5 79,31.5 81,30.2 80,28.8 88,26.4 88.8,27.2 89,27 92,26.9 96,29.4 97.3,28.2 94.5,24.7 93.2,22.3 92.3,23.7 91.2,23.7 92,25.1 88,26 88.1,24.5 89,22 87,21.3 85,19.5 80.3,15.5 80.2,13 79.8,10.3 77.5,8 76.5,9 74.5,14.5 72.8,19 72.8,21 70.5,20.8 69,22.2"],
"Nepal":["80,28.8 81,30.2 85,28.5 88,28 88,26.4"],
"Bhutan":["89,27.4 91.5,27.8 92,26.9 89,27"],
"Bangladesh":["88,26 92,25.1 91.2,23.7 92.3,23.7 92.5,21 90,22 89,22 88.1,24.5"],
"Sri Lanka":["79.8,9.8 81.8,7.5 81,6.2 80,6.2"],
"Myanmar":["92.5,21 93.2,22.3 94.5,24.7 97.3,28.2 98,24 99.5,24 99,22 100.1,21.5 101,21.4 100,20.3 97.8,17.7 98.5,15.3 99,11.2 98.7,10 98.6,13 97.7,15.5 95.5,15.8 94.3,16 94.5,18.5 93,20"],
"Thailand":["100,20.3 101,21.4 101,18 102.6,17.9 104,18 104.9,15.9 105.5,14.4 102.6,13.8 102.6,12 101,12.7 100,13.5 99.3,11 100.5,7.2 102,6.2 101,5.7 100,6.5 98.3,8 98.7,10 99,11.2 98.5,15.3 97.8,17.7"],
"Laos":["100.1,21.5 101.7,21.2 102.2,22.4 103.5,20.7 104,19.5 106.5,16.9 107.5,15 105.5,14.4 104.9,15.9 104,18 102.6,17.9 101,18 101,21.4"],
"Vietnam":["102.2,22.4 105.3,23.3 106.7,22.8 108,21.5 105.7,19 107,17 109.3,13 109,11.5 106.7,10.4 105,8.6 104.8,10.4 106,11.7 107.5,13 107.5,15 106.5,16.9 104,19.5 103.5,20.7"],
"Cambodia":["102.6,13.8 105.5,14.4 107.5,15 107.5,13 106,11.7 104.8,10.4 103,11 102.6,12"],
"Malaysia":["100,6.5 101,5.7 102,6.2 103.4,4 104.2,1.4 103.4,1.5 101.3,2.9 100.4,5.5","109.6,2 111.2,1.5 113.8,1.4 115.5,3 115.8,4.3 117.5,4.2 119,5.2 117,7 115.5,5.5 113,3.2 111,1.7"],
"Indonesia":["109,0.5 109.6,2 111.2,1.5 113.8,1.4 115.5,3 115.8,4.3 117.5,4.2 117.8,2 119,1 117.5,0.5 116.5,-1.5 116,-4 114.6,-4.1 111.5,-3.3 110.2,-2.9 109.1,-0.5","95.3,5.6 97.5,5.2 99.5,3.5 100.5,2.5 103,0.6 104.5,-1 106,-3 106,-5.9 104.5,-5.9 102,-4 100.4,-1 98.6,1.7 95.4,4.9","105.5,-6.8 106.7,-6 110.9,-6.4 114.5,-7.7 114.5,-8.7 110,-8.1 106.5,-7.4","119.8,0 120,0.9 125,1.6 125,1 121,0.3 120.3,-0.9 121.7,-1 123.5,-0.8 122,-2 122.8,-4 123,-5 122,-5 121,-3 120.6,-3 120.5,-5.6 119.5,-5.6 119.3,-3.5 118.8,-2.8","123.7,-10.3 126.9,-8.4 127.3,-8.4 124.9,-10","115,-8.2 115.7,-8.4 115.2,-8.8","116,-8.4 116.7,-8.4 116.4,-8.9","117,-8.3 119,-8.3 119,-8.8 117,-9","120,-8.4 123,-8.3 122.8,-8.8 120,-8.9","119.3,-9.5 120.8,-9.9 120,-9.2","128,-3 130.8,-3.4 128,-3.5","126,-3.1 127.2,-3.2 126.5,-3.7","127.5,2 128.7,1.5 128,0 127.8,0.8","131,-0.8 134,-0.8 135,-3.4 137.9,-1.5 141,-2.6 141,-9.1 139,-8 138,-8.4 138.9,-6.5 138,-5.4 133,-4 132.9,-3 134,-2.5 132,-2.7 131,-1.5","105.2,-1.9 106.6,-3 105.9,-3","107.6,-2.6 108.3,-3 107.7,-3.2","98.7,-1 99.3,-1.7 98.9,-1.6","97.1,1.4 97.8,1 97.6,0.6","95.8,2.9 96.4,2.5 96.2,2.3","99.6,-2.1 100.4,-3.2 99.9,-3","122,-4.7 123,-5.5 122.4,-5.3","128.2,-7.9 127,-7.7 126,-8"],
"Philippines":["120.3,16 120.6,18.5 122.2,18.4 122,16 121.5,15 124,13 123.7,12.9 121,13.7 120.6,14.5","122,7 123.5,8.7 125.5,9.8 126.4,8 126.2,6.3 125.4,5.6 124,6.9","117.2,8.4 119.5,11.3 119,10 117.5,8.4","124.5,12.5 125.7,12.3 125.2,11","122,11.8 123,11.6 122.5,10.6","122.5,10.8 123.4,10.4 123,9.1","123.6,11.2 124,10.6 123.4,9.6","124.4,11.4 125,11 124.9,10.2","121,13.4 121.5,13.2 121,12.3"],
"Papua New Guinea":["141,-2.6 144.6,-3.9 147.8,-6 147,-6.7 147.8,-8 150.8,-10.3 147.5,-10 146,-8.2 143.4,-8.2 143,-9.2 141,-9.1","148.3,-5.6 152,-4.2 152,-5.5 150,-6.3","151,-2.8 152.5,-4 152.8,-3.5","154.6,-5.3 155.9,-6.8 155,-6.5"],
"Australia":["113.6,-22.5 114.2,-26 115,-34.2 118,-35 123.6,-33.9 126,-32.3 131.3,-31.5 134.3,-33 136,-34.8 137.8,-32.9 138.5,-35.6 140.6,-38 143.6,-38.8 146.3,-39 149.9,-37.2 151.3,-33.5 153,-31 153.5,-28 153,-25.5 149.7,-22.4 146.4,-19 145.4,-15 142.5,-10.7 141.5,-13 141,-16.5 139.3,-17.5 135.7,-15 136.9,-12.3 132.6,-11.5 130,-13 129.2,-15 126,-14 124.5,-16.5 122.2,-18 119,-20","144.7,-40.7 148.3,-40.9 148,-43.2 146,-43.6 145.4,-42.3"],
"New Zealand":["172.7,-34.4 175.3,-36.6 176,-37.5 178.5,-37.7 177.5,-39.4 176,-41.3 175,-41.5 175,-40 174,-39.3 174.7,-37.5","172.8,-40.5 174.2,-41.7 172.8,-43.5 171,-45 170.5,-46 168.4,-46.6 166.5,-46 168.5,-44 171,-42"],
"Iran":["44.8,39.7 46,38.9 48,39.6 48.9,38.4 49.5,37.5 51.5,36.7 53.9,36.9 53.9,37.3 55.5,38 57.3,38 59,37.5 60.8,36.6 61,35 60.5,33.7 60.9,31.5 60.9,29.9 61.8,28.7 63.2,27.2 61.5,25 57.3,25.8 56.8,27 54.7,26.5 52.5,27.5 50.1,30.1 48.9,30.3 48.5,29.9 47.7,31.3 45.4,34 46,35.7 44.8,37.2 44.5,37.8"],
"Iraq":["38.8,33.4 41,34.4 42.4,37.2 44.8,37.2 46,35.7 45.4,34 47.7,31.3 48.5,29.9 47.7,30.1 47.3,30 46.5,29.1 44.7,29.2 42,31.1 39.2,32.2"],
"Kuwait":["46.5,29.1 47.3,30 47.7,30.1 48.4,28.6"],
"Saudi Arabia":["34.9,29.4 36,29.2 36.8,29.5 38,30.5 37,31.5 39.2,32.2 42,31.1 44.7,29.2 46.5,29.1 48.4,28.6 50,26.7 50.2,25.6 50.8,24.8 51.6,24.3 52,23 55.2,22.7 55.7,22 55,20 52,19 49,18.6 47,16.9 46.7,17.3 43.5,17.4 43.2,16.7 42.7,16.4 40,20 38.6,23.8 37,26 34.9,28"],
"Qatar":["50.8,24.8 50.8,26 51.4,26.1 51.6,24.3"],
"UAE":["51.6,24.3 54,24.1 55.3,25.3 56.4,26.3 56.4,24.9 55.8,24.2 55.2,22.7 52,23"],
"Oman":["55.2,22.7 55.8,24.2 56.4,24.9 58.5,23.7 59.8,22.5 57.7,19 55.3,17.2 53.1,16.7 52,19 55,20 55.7,22"],
"Yemen":["43.2,16.7 43.5,17.4 46.7,17.3 47,16.9 49,18.6 52,19 53.1,16.7 48,14 45,12.8 43.5,12.7 43,14"],
"Turkey":["26.3,41.7 28,42 29,41.2 31.2,41.1 33.5,42 35.2,42 38,41 41.5,41.5 43.6,41.1 44.8,39.7 44.5,37.8 44.8,37.2 42.4,37.2 41.2,37.1 38,36.8 36.7,36.3 36,36.8 34,36.3 32,36.1 30.6,36.7 29,36.3 27.4,37 26.3,38.5 26.2,40 27.3,40.4 29,40.8 27,41 26.3,40.9"],
"Syria":["36,36.8 36.7,36.3 38,36.8 41.2,37.1 42.4,37.2 41,34.4 38.8,33.4 36.9,32.3 35.8,32.8 36.6,34.2 35.9,34.6"],
"Lebanon":["35.1,33.1 35.9,34.6 36.6,34.2 35.8,33.3"],
"Israel":["34.3,31.3 35.1,33.1 35.8,33.3 35.6,31.5 35,29.5"],
"Palestine":["35,32.4 35.5,32.4 35.5,31.4 34.9,31.4"],
"Jordan":["35,29.5 35.6,31.5 35.6,32.7 36.9,32.3 38.8,33.4 39.2,32.2 37,31.5 38,30.5 36.8,29.5 36,29.2"],
"Cyprus":["32.3,35.1 33,35.4 34.6,35.7 34,35 33.5,34.7 32.8,34.6"],
"Georgia":["39.9,43.4 43.5,42.5 46.5,41.9 45,41.2 43.6,41.1 41.5,41.5"],
"Armenia":["43.6,41.1 45.1,41.2 46.5,39.3 45.5,39.6 44.8,39.7"],
"Azerbaijan":["45.1,41.2 46.5,41.9 48.5,41.8 50.4,40.3 49,39.5 48.9,38.4 48,39.6 46,38.9 46.5,39.3"],
"Morocco":["-5.9,35.8 -5,35.2 -2.2,35.1 -1.8,34.5 -1.2,32.6 -3.7,30.9 -8.7,28.7 -8.7,27.7 -13,27.7 -10,29.5 -9.6,31.5 -6.8,34.1"],
"Algeria":["-2.2,35.1 1,36.5 8.6,36.9 8.4,34.8 9.5,30.3 9.9,27 12,23.5 4,19.2 3.3,19 1.8,20.6 -4.9,25 -8.7,27.1 -8.7,28.7 -3.7,30.9 -1.2,32.6 -1.8,34.5"],
"Tunisia":["8.6,36.9 9.8,37.3 11,37 10.2,34.3 11.5,33.1 9.5,30.3 8.4,34.8"],
"Libya":["11.5,33.1 15,32.3 19,30.3 20,32.8 23,32.6 25,31.6 25,22 24,19.5 16,23.4 14.2,22.6 12,23.5 9.9,27 9.5,30.3"],
"Egypt":["25,31.6 29,31 31,31.6 34.3,31.3 35,29.5 34.2,27.8 33.3,28.6 33,29.5 34,26.5 36.9,22 25,22"],
"Sudan":["24,19.5 25,22 36.9,22 38.5,18 37,17 36.4,14.4 34,11.6 33,10.7 33.9,9.5 23.9,10 22.9,11 22.3,13 23,15.7 24,15.7"],
"South Sudan":["23.9,10 33.9,9.5 34,8.5 35.3,5.4 34,4.2 31,3.7 28,4.4 27.4,5.2 25,7.5 23,8.7"],
"Eritrea":["36.4,14.4 37,17 38.5,18 43,12.8 41.2,14.5 39.5,14.5 37.9,14.9"],
"Djibouti":["43,12.8 43.3,11.5 42,11 42,12.5"],
"Ethiopia":["34,11.6 36.4,14.4 37.9,14.9 39.5,14.5 41.2,14.5 42,12.5 42,11 42.8,10.9 44,9 47.8,8 45,5 41.9,3.9 40.8,4.2 39.5,3.5 36,4.5 35.3,5.4 34,8.5 33.9,9.5 33,10.7"],
"Somalia":["43.3,11.5 44.5,10.5 51.1,11.9 50.9,9.5 48,4.5 44,1 41.6,-1.7 41,-0.9 41,2.8 41.9,3.9 45,5 47.8,8 44,9 42.8,10.9"],
"Kenya":["34,4.2 35.3,5.4 36,4.5 39.5,3.5 40.8,4.2 41.9,3.9 41,2.8 41,-0.9 41.6,-1.7 39.2,-4.7 37.7,-3.6 34,-1 35,1.9"],
"Uganda":["31,3.7 34,4.2 35,1.9 34,-1 30.5,-1 29.6,-1.4 30,1 31.2,2.2"],
"Rwanda":["30.5,-1 30.8,-2.3 29,-2.7 29.6,-1.4"],
"Burundi":["29,-2.7 30.8,-2.3 30.7,-3.4 29.5,-4.4"],
"Tanzania":["30.5,-1 34,-1 37.7,-3.6 39.2,-4.7 38.8,-6.4 39.5,-7 39.5,-9 40.4,-10.4 38.4,-11.3 36.5,-11.7 34.6,-11.6 33.3,-9.5 31.2,-8.6 30.7,-8.4 29.5,-6.8 29.5,-4.4 30.7,-3.4 30.8,-2.3"],
"DR Congo":["12.2,-6 13.4,-5.9 16.2,-5.9 16.9,-7.2 19,-8 21.9,-7.3 22,-11 24,-11 25.2,-11.2 26.4,-11.9 29,-12.3 29.8,-13.4 28.4,-12.4 28.4,-9.2 30.7,-8.4 29.5,-6.8 29.5,-4.4 29,-2.7 29.6,-1.4 30,1 31.2,2.2 31,3.7 28,4.4 27.4,5.2 25,5 22,4 18.5,3.5 17.9,-1 16,-2.7 14.4,-4.6 13,-4.9 12.2,-4.8"],
"Congo":["11.2,-3.9 12.2,-4.8 13,-4.9 14.4,-4.6 16,-2.7 17.9,-1 18.5,3.5 16,2.2 16,1.8 14,2 13.3,2.2 14.4,0 14.2,-2.3 12,-2.4 11.9,-3.4"],
"Gabon":["8.8,-0.8 9.8,1 11.3,1 11.3,2.3 13.3,2.2 14.4,0 14.2,-2.3 12,-2.4 11.9,-3.4 11.2,-3.9"],
"Equatorial Guinea":["9.6,2.3 11.3,2.3 11.3,1 9.8,1"],
"Cameroon":["8.5,4.8 9.6,2.3 13.3,2.2 16,1.8 15.5,3 14.5,5 15.5,7.5 13.9,11.3 15,12.5 14.2,13 14,11.3 12.3,8.5 11,6.7 9.5,6.2"],
"Central African Republic":["14.5,5 15.5,3 16,2.2 18.5,3.5 22,4 25,5 27.4,5.2 25,7.5 23,8.7 22.9,11 18.9,9 15.5,7.5"],
"Chad":["14.2,13 13.5,14.4 15.5,16.9 14.2,22.6 16,23.4 24,19.5 24,15.7 23,15.7 22.3,13 22.9,11 18.9,9 15.5,7.5 13.9,11.3 15,12.5"],
"Nigeria":["2.7,6.4 4.4,6.3 5.5,4.9 8.5,4.8 9.5,6.2 11,6.7 12.3,8.5 14,11.3 14.2,13 13.3,13.6 9,12.8 6.8,13.1 4.1,13.5 3.6,11.7 2.8,9"],
"Niger":["0,14.9 3.5,15.4 3.3,19 4,19.2 12,23.5 14.2,22.6 15.5,16.9 13.5,14.4 14.2,13 13.3,13.6 9,12.8 6.8,13.1 4.1,13.5 3.6,11.7 2.4,12.2 0.9,13.3"],
"Mali":["-12.2,14.7 -11.5,12.4 -8.7,12.5 -8,10.2 -6.2,10.5 -5.4,10.4 -4.7,12 -3,13.5 -2,14.2 0,14.9 3.5,15.4 3.3,19 1.8,20.6 -4.9,25 -6.5,25 -5.5,15.5 -11.5,15.6"],
"Mauritania":["-17,21 -13,21.3 -13,23 -12,26 -8.7,27.1 -4.9,25 -6.5,25 -5.5,15.5 -11.5,15.6 -12.2,14.7 -13,15.6 -14.5,16.6 -16.5,16.2 -16.2,19"],
"Senegal":["-17.5,14.7 -16.5,16.2 -14.5,16.6 -13,15.6 -12.2,14.7 -11.5,12.4 -13.7,12.6 -16.7,12.4"],
"Gambia":["-16.8,13.6 -14,13.7 -14,13.2 -16.8,13.2"],
"Guinea-Bissau":["-16.7,12.4 -13.7,12.6 -13.7,11.6 -15.3,11"],
"Guinea":["-15.3,11 -13.7,11.6 -13.7,12.6 -11.5,12.4 -8.7,12.5 -8,10.2 -7.7,8.5 -8.5,7.6 -9.5,8.5 -10.7,9.3 -12.4,9.9 -13.3,9.2"],
"Sierra Leone":["-13.3,9.2 -12.4,9.9 -10.7,9.3 -10.5,8 -11.4,6.9 -13.2,8"],
"Liberia":["-11.4,6.9 -10.5,8 -9.5,8.5 -8.5,7.6 -8.4,6 -7.6,4.4 -9,5"],
"Ivory Coast":["-8.5,7.6 -7.7,8.5 -8,10.2 -6.2,10.5 -5.4,10.4 -2.9,9.6 -2.6,8 -3.2,5.1 -4,5.2 -7.6,4.4 -8.4,6"],
"Burkina Faso":["-5.4,10.4 -4.7,12 -3,13.5 -2,14.2 0,14.9 0.9,13.3 2.4,12.2 0.9,11 -2.9,11 -2.9,9.6"],
"Ghana":["-2.9,11 0,11 0.5,8.5 1.2,6 -2,4.7 -3.2,5.1 -2.6,8 -2.9,9.6"],
"Togo":["0,11 0.9,11 1.6,9 1.7,6.2 1.2,6 0.5,8.5"],
"Benin":["0.9,11 2.4,12.2 3.6,11.7 2.8,9 2.7,6.4 1.7,6.2 1.6,9"],
"Angola":["11.7,-16.6 11.8,-17.3 14,-17.4 18.5,-17.4 21.4,-18 23.2,-17.5 22,-16.2 22,-13 24,-13 24,-11 22,-11 21.9,-7.3 19,-8 16.9,-7.2 16.2,-5.9 13.4,-5.9 12.2,-6 13.4,-9 13.7,-10.8 13.6,-12.3 12.2,-15"],
"Zambia":["22,-13 24,-13 24,-11 25.2,-11.2 26.4,-11.9 29,-12.3 29.8,-13.4 28.4,-12.4 28.4,-9.2 30.7,-8.4 31.2,-8.6 33.3,-9.5 33,-11.5 33.2,-14 30.2,-14.8 30.3,-15.6 28.8,-16 27,-17.9 25.2,-17.8 23.2,-17.5 22,-16.2"],
"Malawi":["33.3,-9.5 34.6,-11.6 35,-14 35.8,-16 35,-17 34.3,-15.4 33.2,-14 33,-11.5"],
"Mozambique":["34.6,-11.6 36.5,-11.7 38.4,-11.3 40.4,-10.4 40.8,-14.8 37,-17.7 35,-20 35.5,-24 32.8,-25.9 32.9,-26.8 31.9,-26.8 32,-24.4 31.2,-22.3 32.8,-20 32.8,-16.7 30.3,-15.6 30.2,-14.8 33.2,-14 34.3,-15.4 35,-17 35.8,-16 35,-14"],
"Zimbabwe":["25.2,-17.8 27,-17.9 28.8,-16 30.3,-15.6 32.8,-16.7 32.8,-20 31.2,-22.3 29.4,-22.2 27,-20.5"],
"Botswana":["21,-18 23.2,-17.5 25.2,-17.8 27,-20.5 29.4,-22.2 26.9,-23.6 25.7,-25.5 23,-25.3 20,-24.8 20,-22 21,-22"],
"Namibia":["11.8,-17.3 14,-17.4 18.5,-17.4 21.4,-18 21,-18 21,-22 20,-22 20,-28.5 16.5,-28.6 15,-26.5 14.5,-22.7 12.5,-18.8"],
"South Africa":["16.5,-28.6 20,-28.5 20,-24.8 23,-25.3 25.7,-25.5 26.9,-23.6 29.4,-22.2 31.2,-22.3 32,-24.4 31.9,-26.8 32.9,-26.8 32.4,-28.7 30.5,-31 27,-33.9 22,-34.2 20,-34.8 18.4,-34.2 18.3,-32"],
"Lesotho":["27,-29.6 28.5,-28.6 29.4,-29.5 28,-30.6"],
"Eswatini":["31,-26 32,-26 32,-27.2 31,-27"],
"Madagascar":["49.4,-12 50.4,-15.5 47,-25 45,-25.5 43.5,-23.5 44.3,-20 44,-17 46.5,-15.7"]
};
const lakes=["-92,46.7 -88,48.5 -85,47.8 -84.8,46.6 -87,46.5","-87.8,41.7 -86.4,41.8 -85,45.7 -86.5,45.8 -88,44.5","-84.7,46 -80,46 -80,44.6 -81.7,43.1 -83.5,43.7 -83.5,45.2","-83.4,41.7 -79,42.7 -79,43 -83,42.2","-79.7,43.3 -76.3,43.5 -76.3,44.2 -79.4,43.8","-99,53.5 -97,53.7 -96.5,50.5 -97.5,50.5","-123,65.8 -118,67 -119,65.3","-116,61 -109,62.7 -112,61.5"];
const specks=["-77.5,25","-76,24.5","-75.5,23.5","-74,22.5","-73,22","-78,26.6","-77,26.5","-72.5,21.5","-61,16","-61,14.6","-61,13.2","-61.7,12","-62.7,17.2","-63,18","-64.7,18.3","-81,19.3","-91,-0.5","-155.5,21","-157,21.3","-158,21.5","-159.5,22","73,4","73,6","-24,16","-23.5,15","-16,28.3","-14,28.5","-28,38.5","57.5,-20","55.5,-21","55.5,-4.6","43.5,-12","-172,-13.7","-175,-21","160,-9","161,-9.5","159,-8","162,-10.5","167,-15.5","168,-17","178,-18","179.5,-17","165,-21","166.5,-22","145,14","151,7","158,7","167,9","171,7","173,1","92.8,12","92.7,11","93.5,8","108,4","106,3","117,-7","111,-5.8","119,-5","126.8,4","122,-0.5","50.5,26","24.5,37.5","25.5,36.5","26.5,36.9","24,37.7","26,37.7","27,36.8","11,37","14.4,35.9","-60,-51.8","-58.5,-51.6","-37,-54.3","70,-49.3","-5,60","-7,62","-2.8,59","-6.5,57.5","-7.2,57"];

// ---------- layout ----------
const NS="http://www.w3.org/2000/svg";
const svg=document.getElementById('fig');
const insetDefs=[
 {key:"caribbean",lines:["Caribbean and Central America"],x:95,y:897,w:325.5,h:266,lon:[-94.9,-56.5],lat:[3.4,28.4],ly:[872]},
 {key:"persian-gulf",lines:["Persian Gulf"],x:448,y:897,w:217.5,h:266,lon:[44.4,55.1],lat:[18.4,31.7],ly:[872]},
 {key:"balkan",lines:["Balkan Peninsula"],x:693,y:897,w:238,h:266,lon:[10.3,33.7],lat:[34.1,53.4],ly:[872]},
 {key:"southeast-asia",lines:["Southeast Asia"],x:959.6,y:897,w:260.4,h:266,lon:[96.2,124.4],lat:[-11.2,9],ly:[872]},
 {key:"west-africa",lines:["West Africa"],x:1248,y:897,w:94,h:105,lon:[-17.6,-3.1],lat:[3.4,21.8],ly:[872]},
 {key:"eastern-mediterranean",lines:["Eastern","Mediterranea"],x:1370,y:897,w:94.5,h:105,lon:[31.4,37.4],lat:[28.2,36.3],ly:[861,883]},
 {key:"northern-europe",lines:["Northern Europe"],x:1248,y:1059,w:216.5,h:104,lon:[5.5,26.8],lat:[47.7,60.5],ly:[1044]}
];
const panels=[
 {key:"incidence",bins:incidenceBins,legend:incidenceLegend,mapDx:0,mapDy:0,legDx:0,legDy:0,insDx:0,insDy:0},
 {key:"prevalence",bins:prevalenceBins,legend:prevalenceLegend,mapDx:1769,mapDy:-7,legDx:1766,legDy:-7.5,insDx:1768,insDy:-7.5},
 {key:"daly",bins:dalyBins,legend:dalyLegend,mapDx:4,mapDy:1316,legDx:-6,legDy:1314.3,insDx:3,insDy:1314.6},
 {key:"death",bins:deathBins,legend:deathLegend,mapDx:1821,mapDy:1329.5,legDx:1820.5,legDy:1330,insDx:1820,insDy:1330}
];
function make(tag,attrs,parent){const el=document.createElementNS(NS,tag);for(const k in attrs)el.setAttribute(k,attrs[k]);parent.appendChild(el);return el;}
function scaleX(view,lon){return view.x+(lon-view.lon[0])/(view.lon[1]-view.lon[0])*view.w;}
function scaleY(view,lat){return view.y+(view.lat[1]-lat)/(view.lat[1]-view.lat[0])*view.h;}
// Sutherland-Hodgman clip of a projected ring against one half-plane
function clipEdge(pts,inside,cross){
 const out=[];
 for(let i=0;i<pts.length;i++){
  const a=pts[i],b=pts[(i+1)%pts.length],ia=inside(a),ib=inside(b);
  if(ia)out.push(a);
  if(ia!==ib)out.push(cross(a,b));
 }
 return out;
}
function clipRect(pts,view){
 const x0=view.x,x1=view.x+view.w,y0=view.y,y1=view.y+view.h;
 const atX=X=>(a,b)=>[X,a[1]+(b[1]-a[1])*(X-a[0])/(b[0]-a[0])];
 const atY=Y=>(a,b)=>[a[0]+(b[0]-a[0])*(Y-a[1])/(b[1]-a[1]),Y];
 let r=clipEdge(pts,p=>p[0]>=x0,atX(x0));
 if(r.length)r=clipEdge(r,p=>p[0]<=x1,atX(x1));
 if(r.length)r=clipEdge(r,p=>p[1]>=y0,atY(y0));
 if(r.length)r=clipEdge(r,p=>p[1]<=y1,atY(y1));
 return r;
}
function pathOf(ring,view){
 let pts=ring.trim().split(/\s+/).map(p=>p.split(',').map(Number)).map(p=>[scaleX(view,p[0]),scaleY(view,p[1])]);
 if(view.clip){pts=clipRect(pts,view);if(pts.length<3)return '';}
 return 'M'+pts.map(p=>p[0].toFixed(1)+' '+p[1].toFixed(1)).join('L')+'Z';
}
function drawMap(parent,view,bins,sw){
 countries.forEach((name,i)=>{
  const d=(geo[name]||[]).map(r=>pathOf(r,view)).join('');
  if(!d)return;
  const p=make('path',{d:d,fill:palette[bins[i]]||'#fff',stroke:'#0d0d0d','stroke-width':sw,'stroke-linejoin':'round'},parent);
  
  
 });
 const lk=lakes.map(r=>pathOf(r,view)).join('');
 if(lk){
  const l=make('path',{d:lk,fill:'#fff',stroke:'#0d0d0d','stroke-width':sw*0.8},parent);
  
  
 }
 const spk=specks.map(s=>{const q=s.split(',').map(Number);
   if(q[0]<view.lon[0]||q[0]>view.lon[1]||q[1]<view.lat[0]||q[1]>view.lat[1])return '';
   const x=scaleX(view,q[0]),y=scaleY(view,q[1]);const r=view.clip?2.6:1.1;
   return 'M'+(x-r*0.6).toFixed(1)+' '+y.toFixed(1)+'a'+(r*0.6)+' '+r+' 0 1 0 '+(r*1.2)+' 0a'+(r*0.6)+' '+r+' 0 1 0 '+(-r*1.2)+' 0Z';}).join('');
 if(spk){
  const s=make('path',{d:spk,fill:'#111',stroke:'#0d0d0d','stroke-width':0.6},parent);
  
  
 }
}
panels.forEach(pn=>{
 const g=make('g',{},svg);
 
 
 // world map
 const world=make('g',{},g);
 
 
 drawMap(world,{x:156+pn.mapDx,y:161.3+pn.mapDy,w:1248,h:646.2,lon:[-180,180],lat:[-90,90],clip:false},pn.bins,1.3);
 // legend
 const lg=make('g',{},g);
 
 
 const t1=make('text',{x:125+pn.legDx,y:385+pn.legDy,'font-size':19.5},lg);
 t1.textContent='Rate';
 
 
 const t2=make('text',{x:125+pn.legDx,y:407+pn.legDy,'font-size':19.5},lg);
 t2.textContent='(per 100,000 population)';
 
 
 pn.legend.forEach((lab,i)=>{
  const y=420+pn.legDy+i*34.09;
  const r=make('rect',{x:126+pn.legDx,y:y,width:30,height:30.5,fill:palette[i],stroke:'#000','stroke-width':2.4},lg);
  
  
  const t=make('text',{x:168+pn.legDx,y:y+23.5,'font-size':23.4},lg);
  t.textContent=lab;
  
  
 });
 // insets
 insetDefs.forEach(ins=>{
  const ig=make('g',{},g);
  
  
  const vx=ins.x+pn.insDx,vy=ins.y+pn.insDy;
  ins.lines.forEach((ln,k)=>{
   const t=make('text',{x:vx,y:ins.ly[k]+pn.insDy,'font-size':19.5},ig);
   t.textContent=ln;
   
   
  });
  const mg=make('g',{},ig);
  
  
  drawMap(mg,{x:vx,y:vy,w:ins.w,h:ins.h,lon:ins.lon,lat:ins.lat,clip:true},pn.bins,2.1);
  const fr=make('rect',{x:vx,y:vy,width:ins.w,height:ins.h,fill:'none',stroke:'#333','stroke-width':1.6},ig);
  
  
 });
});
</script>
</body></html>
